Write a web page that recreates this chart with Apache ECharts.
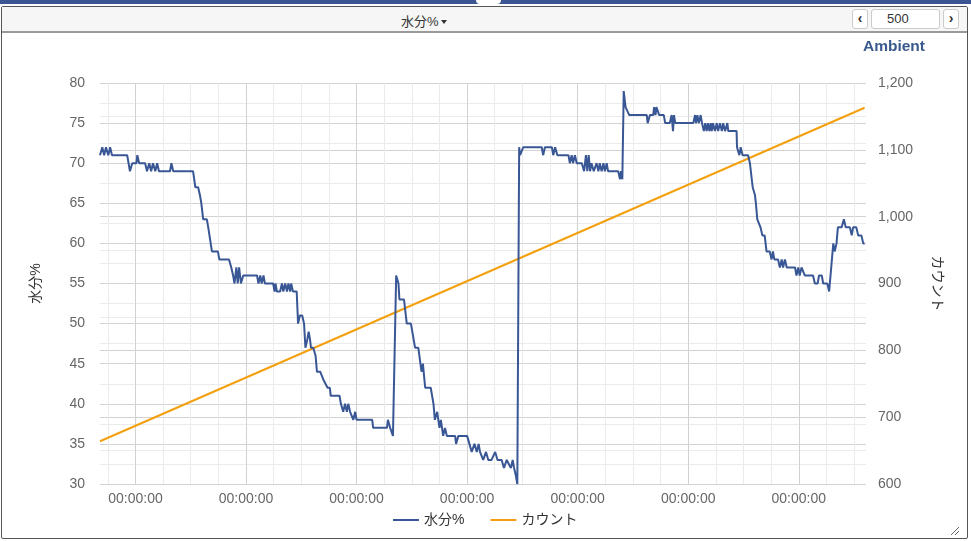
<!DOCTYPE html>
<html>
<head>
<meta charset="utf-8">
<script src="https://cdn.jsdelivr.net/npm/echarts@6/dist/echarts.min.js"></script>
<style>
  html, body { margin: 0; padding: 0; width: 971px; height: 541px; background: #fff; overflow: hidden;
    font-family: 'Liberation Sans', Arial, 'Noto Sans CJK JP', sans-serif; }
  #chart { position: absolute; left: 0; top: 0; width: 971px; height: 541px; z-index: 1; }
  #topbar { position: absolute; left: 0; top: 0; width: 971px; height: 4px; background: #3b5592; z-index: 3; }
  #tab { position: absolute; left: 476px; top: 0; width: 25px; height: 4px; background: #fff; border-radius: 0 0 5px 5px; z-index: 4; }
  #panel { position: absolute; left: 1px; top: 6px; width: 965px; height: 531px; border: 1px solid #555; border-radius: 2px; z-index: 0; }
  #hdr { position: absolute; left: 2px; top: 7px; width: 965px; height: 24px; background: #f6f6f6; border-bottom: 2px solid #9a9a9a; z-index: 2; }
  #sel { position: absolute; left: 399px; top: 4px; font-size: 13px; color: #333; }
  .caret { display: inline-block; width: 0; height: 0; border-left: 3.5px solid transparent; border-right: 3.5px solid transparent; border-top: 4px solid #333; vertical-align: 2px; margin-left: 2px; }
  .btn { position: absolute; top: 2px; width: 14px; height: 18px; background: #fff; border: 1px solid #ccc; border-radius: 3px; font-size: 14px; font-weight: bold; color: #333; text-align: center; line-height: 16px; }
  #inp { position: absolute; left: 869px; top: 2px; width: 67px; height: 18px; background: #fff; border: 1px solid #ccc; border-radius: 3px; font-size: 13px; color: #333; line-height: 18px; padding-left: 0; }
  #inp span { position: absolute; left: 15px; top: 0; }
  #grip { position: absolute; left: 951px; top: 527px; width: 8px; height: 8px; z-index: 2;
    background: linear-gradient(135deg, transparent 0, transparent 45%, #666 45%, #666 55%, transparent 55%, transparent 70%, #666 70%, #666 80%, transparent 80%); }
</style>
</head>
<body>
<div id="panel"></div>
<div id="chart"></div>
<div id="topbar"></div>
<div id="tab"></div>
<div id="hdr">
  <span id="sel">水分%<span class="caret"></span></span>
  <span class="btn" style="left:850px;">&#8249;</span>
  <div id="inp"><span>500</span></div>
  <span class="btn" style="left:941px;">&#8250;</span>
</div>
<div id="grip"></div>
<script>
// ---- data (x in hours from the first midnight tick) ----
const times = [
  -7.7, -7.2, -6.8, -6.4, -5.9, -5.5, -5.1, -1.8, -1.2, -0.7, 0.2, 0.4, 0.8, 2.1, 2.5, 3.0, 3.4, 3.8, 4.3, 4.7,
  5.1, 7.5, 7.8, 8.2, 12.5, 13.0, 13.6, 14.0, 14.3, 14.7, 15.5, 15.8, 16.6, 17.9, 18.2, 20.3, 20.8, 21.2, 21.5, 21.9,
  22.2, 22.5, 22.9, 23.4, 26.4, 26.7, 27.1, 27.4, 27.8, 28.1, 29.9, 30.2, 30.4, 30.7, 31.4, 31.8, 32.1, 32.5, 32.9, 33.2,
  33.6, 33.8, 34.2, 35.0, 35.3, 35.7, 36.2, 36.6, 36.9, 37.3, 37.6, 37.9, 38.1, 38.6, 39.1, 39.4, 40.1, 40.8, 41.7, 42.2,
  42.4, 44.3, 44.6, 44.9, 45.1, 45.5, 45.9, 46.2, 46.6, 47.0, 47.3, 47.7, 48.0, 51.4, 51.6, 54.6, 54.8, 55.3, 55.9, 56.6,
  57.1, 57.3, 58.3, 58.9, 59.8, 60.7, 61.4, 62.1, 62.4, 62.9, 64.1, 64.7, 65.0, 65.5, 66.0, 66.3, 66.8, 67.2, 67.6, 69.4,
  69.6, 70.1, 72.0, 72.5, 73.0, 73.6, 74.1, 74.5, 74.8, 75.5, 76.1, 76.6, 77.3, 78.1, 78.6, 79.5, 80.0, 80.6, 81.5, 81.9,
  82.2, 82.6, 82.9, 83.1, 83.3, 83.5, 84.2, 88.2, 88.5, 88.9, 90.4, 90.7, 91.1, 91.6, 94.0, 94.3, 94.7, 95.0, 95.4, 95.8,
  96.9, 97.4, 97.8, 98.1, 98.4, 98.7, 99.0, 99.5, 100.1, 100.5, 100.8, 101.2, 101.6, 101.9, 102.3, 102.6, 104.8, 105.2, 105.4, 105.7,
  106.0, 106.4, 107.2, 111.0, 111.2, 111.7, 112.4, 112.6, 112.9, 113.1, 113.7, 114.7, 115.0, 116.0, 116.4, 116.7, 116.9, 117.2, 121.1, 121.5,
  121.7, 122.0, 122.3, 122.7, 123.0, 123.4, 123.7, 124.0, 124.3, 124.6, 124.9, 125.1, 125.4, 125.8, 126.2, 126.5, 126.9, 127.3, 127.6, 128.0,
  128.5, 128.7, 130.5, 130.6, 131.1, 131.4, 131.8, 133.0, 133.4, 133.8, 134.0, 134.5, 134.7, 135.0, 135.4, 135.7, 136.1, 136.6, 137.0, 137.7,
  138.1, 138.4, 138.7, 139.5, 139.9, 140.3, 140.6, 141.0, 141.4, 143.2, 143.5, 143.9, 144.2, 144.6, 145.3, 147.1, 147.5, 148.1, 148.4, 149.0,
  149.3, 150.2, 150.6, 151.5, 151.8, 152.2, 152.5, 153.3, 153.8, 154.2, 155.1, 155.5, 155.8, 156.5, 156.9, 157.6, 158.0, 158.3
];
const moisture = [
  71, 72, 71, 72, 71, 72, 71, 71, 69, 70, 70, 71, 70, 70, 69, 70, 69, 70, 69, 70,
  69, 69, 70, 69, 69, 67, 67, 66, 65, 63, 63, 62, 59, 59, 58, 58, 57, 56, 55, 57,
  55, 57, 55, 56, 56, 55, 56, 55, 56, 55, 55, 54, 55, 54, 54, 55, 54, 55, 54, 55,
  54, 55, 54, 54, 50, 51, 51, 50, 47, 48, 49, 48, 47, 47, 46, 44, 44, 43, 42, 42,
  41, 41, 40, 40, 39, 40, 39, 40, 39, 39, 38, 39, 38, 38, 37, 37, 38, 37, 36, 56,
  55, 53, 53, 50, 50, 47, 47, 44, 45, 42, 42, 40, 38, 39, 37, 38, 36, 37, 36, 36,
  35, 36, 36, 35, 34, 35, 34, 35, 34, 33, 34, 33, 33, 34, 33, 33, 32, 33, 32, 33,
  32, 31, 30, 30, 72, 71, 72, 72, 71, 72, 72, 71, 72, 71, 71, 70, 71, 70, 71, 70,
  70, 69, 71, 69, 71, 69, 70, 69, 70, 69, 70, 69, 70, 69, 70, 69, 69, 68, 69, 68,
  79, 77, 76, 76, 75, 76, 76, 77, 76, 77, 76, 76, 75, 75, 76, 74, 76, 75, 75, 76,
  75, 76, 75, 76, 75, 74, 75, 74, 75, 74, 75, 74, 75, 74, 75, 74, 75, 74, 75, 74,
  75, 74, 74, 72, 71, 72, 71, 71, 70, 68, 67, 66, 65, 63, 63, 62, 61, 61, 59, 59,
  58, 59, 58, 58, 57, 58, 57, 58, 57, 57, 56, 57, 56, 57, 56, 56, 55, 55, 56, 56,
  55, 55, 54, 60, 59, 60, 62, 62, 63, 62, 62, 61, 62, 62, 61, 61, 60, 60
];
const countTimes = [-7.7, 158.3];
const counts = [664, 1163];
const tickLabel = '00:00:00';
const leftTicks = { min: 30, max: 80, interval: 5 };
const rightTicks = { min: 600, max: 1200, interval: 100 };

const font = "'Liberation Sans', Arial, 'Noto Sans CJK JP', sans-serif";
const major = '#d2d2d2', minor = '#ebebeb';
const moistureData = times.map((t, i) => [t, moisture[i]]);
const countData = countTimes.map((t, i) => [t, counts[i]]);
const lineIcon = 'path://M0,0 L26,0 L26,2 L0,2 Z';

const chart = echarts.init(document.getElementById('chart'), null, { renderer: 'canvas' });
chart.setOption({
  animation: false,
  textStyle: { fontFamily: font },
  title: {
    text: 'Ambient', right: 41, top: 34,
    textStyle: { fontFamily: font, fontSize: 15.5, fontWeight: 'bold', color: '#3a5a8e' }
  },
  legend: {
    bottom: 9, left: 388, itemWidth: 26, itemHeight: 2, itemGap: 26,
    textStyle: { fontFamily: font, fontSize: 14, color: '#333' },
    data: [{ name: '水分%', icon: lineIcon }, { name: 'カウント', icon: lineIcon }]
  },
  grid: { left: 100, right: 105, top: 83, bottom: 57 },
  xAxis: {
    type: 'value', min: -7.7, max: 158.6, splitNumber: 7, minInterval: 24, maxInterval: 24,
    axisLine: { show: false }, axisTick: { show: false },
    axisLabel: { formatter: () => tickLabel, showMinLabel: false, showMaxLabel: false,
      color: '#666', fontSize: 14, margin: 8, fontFamily: font },
    splitLine: { show: true, showMinLine: false, showMaxLine: false, lineStyle: { color: major, width: 1 } },
    minorTick: { show: false, splitNumber: 4 },
    minorSplitLine: { show: true, lineStyle: { color: minor, width: 1 } }
  },
  yAxis: [
    {
      type: 'value', position: 'left', min: leftTicks.min, max: leftTicks.max, interval: leftTicks.interval,
      name: '水分%', nameLocation: 'middle', nameGap: 57,
      nameTextStyle: { fontFamily: font, fontSize: 14, color: '#333' },
      axisLine: { show: false }, axisTick: { show: false },
      axisLabel: { color: '#666', fontSize: 14, margin: 15, fontFamily: font },
      splitLine: { show: true, lineStyle: { color: major } },
      minorTick: { show: false, splitNumber: 2 },
      minorSplitLine: { show: true, lineStyle: { color: minor } }
    },
    {
      type: 'value', position: 'right', min: rightTicks.min, max: rightTicks.max, interval: rightTicks.interval,
      name: 'カウント', nameLocation: 'middle', nameGap: 64, nameRotate: -90,
      nameTextStyle: { fontFamily: font, fontSize: 14, color: '#333' },
      axisLine: { show: false }, axisTick: { show: false },
      axisLabel: { color: '#666', fontSize: 14, margin: 12, fontFamily: font,
        formatter: v => v.toLocaleString('en-US') },
      splitLine: { show: true, lineStyle: { color: major } },
      minorTick: { show: false, splitNumber: 2 },
      minorSplitLine: { show: true, lineStyle: { color: minor } }
    }
  ],
  series: [
    {
      name: '水分%', type: 'line', yAxisIndex: 0, data: moistureData,
      symbol: 'none', showSymbol: false, color: '#3a5795',
      lineStyle: { color: '#3a5795', width: 2 }, z: 3
    },
    {
      name: 'カウント', type: 'line', yAxisIndex: 1, data: countData,
      symbol: 'none', showSymbol: false, color: '#f4a00e',
      lineStyle: { color: '#f4a00e', width: 2 }, z: 2
    }
  ]
});
</script>
</body>
</html>
